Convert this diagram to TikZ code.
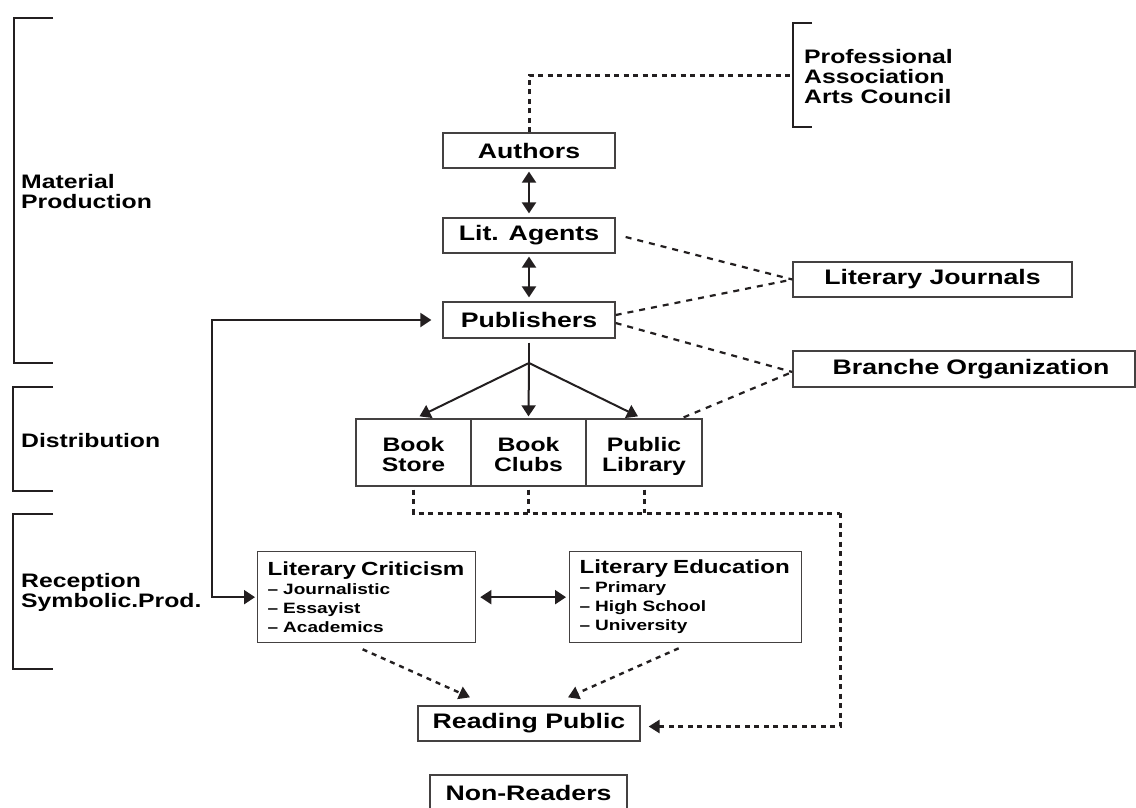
\documentclass[tikz,border=0pt]{standalone}
\usepackage{fontspec}
\setmainfont{Liberation Sans}[FakeStretch=1.27]
\usetikzlibrary{arrows.meta}
\definecolor{ink}{HTML}{231F20}
\begin{document}
\begin{tikzpicture}[x=1pt,y=-1pt,
  box/.style={draw=ink!85, line width=1.3pt, inner sep=0pt, text=black,
    font=\bfseries\fontsize{21}{22}\selectfont},
  bookbox/.style={draw=ink!85, line width=1.3pt, inner sep=0pt, text=black, align=center,
    minimum width=115pt, minimum height=67pt, font=\bfseries\fontsize{19.5}{19.5}\selectfont},
  listbox/.style={draw=ink!85, line width=1.3pt, inner xsep=10pt, inner ysep=0pt, text=black,
    align=left, minimum height=91pt, anchor=north west, font=\bfseries\fontsize{15}{19}\selectfont},
  side/.style={inner sep=0pt, anchor=north west, align=left, text=black,
    font=\bfseries\fontsize{19.5}{20}\selectfont},
  bracket/.style={draw=ink, line width=2pt},
  arr/.style={draw=ink, line width=2pt, -{Triangle[length=11pt,width=14pt]}},
  darr/.style={draw=ink, line width=2pt, {Triangle[length=11pt,width=14pt]}-{Triangle[length=11pt,width=14pt]}},
  dashln/.style={draw=ink, line width=2.2pt, dash pattern=on 6pt off 6pt},
  dotln/.style={draw=ink, line width=3pt, dash pattern=on 5pt off 4.5pt},
  dotarr/.style={draw=ink, line width=2.4pt, dash pattern=on 5pt off 5pt, -{Triangle[length=11pt,width=13pt]}}
]
\clip (0,0) rectangle (1136,807);
\fill[white] (0,0) rectangle (1136,807);

% brackets
\draw[bracket] (53,18) -- (14,18) -- (14,363) -- (53,363);
\draw[bracket] (53,387) -- (13,387) -- (13,491) -- (53,491);
\draw[bracket] (53,514) -- (13,514) -- (13,669) -- (53,669);
\draw[bracket] (812,23) -- (793,23) -- (793,127) -- (812,127);

% side labels
\node[side] (matprod) at (21,174) {Material\\Production};
\node[side] (distr) at (21,433) {Distribution};
\node[side] (recep) at (21,573) {Reception\\Symbolic.Prod.};
\node[side] (prof) at (804,49) {Professional\\Association\\Arts Council};

% main boxes
\node[box, minimum width=172pt, minimum height=35pt] (authors) at (529,150.5) {Authors};
\node[box, minimum width=172pt, minimum height=35pt] (agents) at (529,235.5) {Lit. Agents};
\node[box, minimum width=172pt, minimum height=36pt] (publishers) at (529,320) {Publishers};
\node[box, minimum width=279pt, minimum height=35pt] (journals) at (932.5,279.5) {Literary Journals};
\node[box, minimum width=342pt, minimum height=36pt, text width=342pt, align=center] (branche) at (964,369) {\hspace*{14pt}Branche Organization};

\node[bookbox] (store) at (413.5,452.5) {\rule{0pt}{18pt}Book\\Store};
\node[bookbox] (clubs) at (528.5,452.5) {\rule{0pt}{18pt}Book\\Clubs};
\node[bookbox, minimum width=116pt] (library) at (644,452.5) {\rule{0pt}{18pt}Public\\\smash{Library}};

\node[listbox, text width=198pt] (crit) at (257,551)
  {\mbox{\fontsize{19}{20}\selectfont Literary Criticism}\\ – Journalistic\\ – Essayist\\ – Academics};
\node[listbox, text width=212pt] (edu) at (569,551)
  {\mbox{\fontsize{19}{20}\selectfont Literary Education}\\ – Primary\\ – High School\\ – University};

\node[box, minimum width=222pt, minimum height=35pt] (reading) at (529,723.5) {Reading Public};
\node[box, minimum width=197pt, minimum height=35pt] (nonread) at (528.5,792.5) {Non-Readers};

% coordinates
\coordinate (pb) at (793,75);
\coordinate (junc) at (529,363);
\coordinate (lx) at (212,460);
\coordinate (dr) at (840,513);

% authors to professional bracket
\draw[dotln] (authors.north) |- (pb);

% vertical double arrows
\draw[darr, shorten <=3pt, shorten >=4pt] (authors.south) -- (agents.north);
\draw[darr, shorten <=3pt, shorten >=4pt] (agents.south) -- (publishers.north);

% publishers to distribution
\draw[draw=ink, line width=2pt, shorten <=4pt] (publishers.south) -- (junc);
\draw[arr] (junc) -- ([xshift=6pt,yshift=2pt]store.north);
\draw[arr] (junc) -- ([yshift=2pt]clubs.north);
\draw[arr] (junc) -- ([xshift=-6pt,yshift=2pt]library.north);

% publishers <-> criticism
\draw[darr, shorten <=11pt, shorten >=2pt] (publishers.west) -| (lx) |- (crit.west);
\draw[darr, shorten <=4pt, shorten >=3pt] (crit.east) -- (edu.west);

% dashed links to journals / branche
\draw[dashln] ([xshift=10pt,yshift=-1.5pt]agents.east) -- (journals.west);
\draw[dashln] ([yshift=5pt]publishers.east) -- (journals.west);
\draw[dashln] ([yshift=-3pt]publishers.east) -- ([yshift=-3pt]branche.west);
\draw[dashln] ([xshift=-19pt,yshift=1pt]library.north east) -- ([yshift=-3pt]branche.west);

% distribution to reading public
\draw[dotln, shorten <=3pt] (store.south) |- (dr);
\draw[dotln, shorten <=3pt] (clubs.south) -- (clubs.south |- dr);
\draw[dotln, shorten <=3pt] (library.south) -- (library.south |- dr);
\draw[dotln, -{Triangle[length=11pt,width=13pt]}, shorten >=8pt] (dr) |- ([yshift=-3pt]reading.east);

% criticism / education to reading public
\draw[dotarr] ([xshift=-4pt,yshift=-6pt]crit.south) -- ([xshift=-59pt,yshift=8pt]reading.north);
\draw[dotarr] ([xshift=-7pt,yshift=-5pt]edu.south) -- ([xshift=39pt,yshift=8pt]reading.north);
\end{tikzpicture}
\end{document}
